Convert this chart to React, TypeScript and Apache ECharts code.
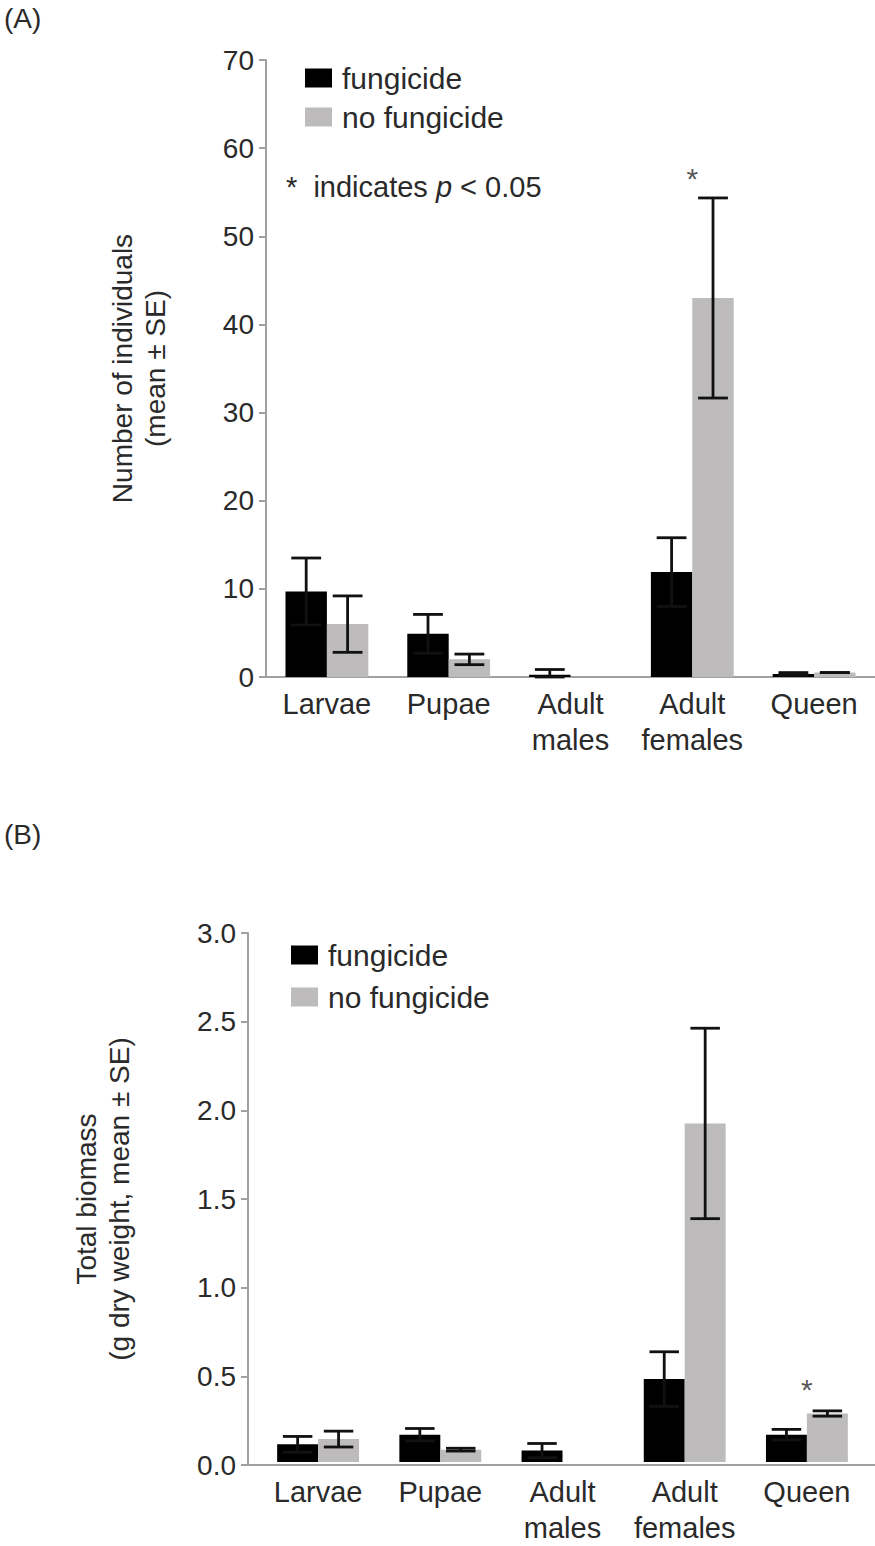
import React, { useEffect, useRef } from "react";
import * as echarts from "echarts";

const categories = ["Larvae", "Pupae", "Adult\nmales", "Adult\nfemales", "Queen"];
const seriesNames = ["fungicide", "no fungicide"];

// Panel A: number of individuals (mean ± SE)
const countFungicide = [9.7, 4.9, 0.25, 11.9, 0.35];
const countFungicideSE = [3.8, 2.2, 0.6, 3.9, 0.15];
const countNoFungicide = [6.0, 2.0, 0, 43.0, 0.5];
const countNoFungicideSE = [3.2, 0.6, 0, 11.35, 0];
const countStars = [null, null, null, 56.6, null];

// Panel B: total biomass (g dry weight, mean ± SE)
const massFungicide = [0.1, 0.155, 0.065, 0.47, 0.155];
const massFungicideSE = [0.045, 0.035, 0.04, 0.155, 0.03];
const massNoFungicide = [0.13, 0.07, 0, 1.92, 0.275];
const massNoFungicideSE = [0.045, 0.008, 0, 0.54, 0.015];
const massStars = [null, null, null, null, 0.41];

const countAxis = { min: 0, max: 70, interval: 10 };
const massAxis = { min: 0, max: 3, interval: 0.5 };

const FONT = "'Liberation Sans', Arial, sans-serif";
const TEXT = "#2a2a2a";
const AXIS = "#a0a0a0";
const BLACK = "#000000";
const GREY = "#bdbbbb";
const GAP_A = 0.32;
const GAP_B = 0.33;

function errorData(means: number[], ses: number[], side: number) {
  return means.map((m, i) => [i, m, ses[i], side]);
}

function makeErrorSeries(idx: number, data: any[], gapFrac: number) {
  return {
    type: "custom",
    xAxisIndex: idx,
    yAxisIndex: idx,
    z: 10,
    silent: true,
    data,
    renderItem: (params: any, api: any) => {
      const ci = api.value(0);
      const mean = api.value(1);
      const se = api.value(2);
      const side = api.value(3);
      if (mean <= 0 && se <= 0) return null;
      const band = api.size([1, 0])[0];
      const bw = (band * (1 - gapFrac)) / 2;
      const cx = api.coord([ci, 0])[0] + (side === 0 ? -bw / 2 : bw / 2);
      const lo = Math.max(0, mean - se);
      const yTop = api.coord([ci, mean + se])[1];
      const yBot = api.coord([ci, lo])[1];
      const cap = bw * 0.36;
      const st = { stroke: "#111", lineWidth: 2.8 };
      return {
        type: "group",
        children: [
          { type: "line", shape: { x1: cx, y1: yTop, x2: cx, y2: yBot }, style: st },
          { type: "line", shape: { x1: cx - cap, y1: yTop, x2: cx + cap, y2: yTop }, style: st },
          { type: "line", shape: { x1: cx - cap, y1: yBot, x2: cx + cap, y2: yBot }, style: st },
        ],
      };
    },
  };
}

function starData(stars: (number | null)[]) {
  return stars
    .map((v, i) => (v === null ? null : [i, v]))
    .filter((d) => d !== null);
}

function starSeries(idx: number, stars: (number | null)[]) {
  return {
    type: "scatter",
    xAxisIndex: idx,
    yAxisIndex: idx,
    symbolSize: 1,
    itemStyle: { color: "transparent" },
    silent: true,
    data: starData(stars),
    label: {
      show: true,
      position: "inside",
      formatter: "*",
      fontSize: 30,
      fontFamily: FONT,
      color: TEXT,
    },
  };
}

function xAxisOpt(idx: number, margin: number, showLine: boolean) {
  return {
    type: "category",
    gridIndex: idx,
    data: categories,
    axisLine: { show: showLine, lineStyle: { color: AXIS, width: 2 } },
    axisTick: { show: false },
    axisLabel: {
      interval: 0,
      fontSize: 29,
      lineHeight: 36,
      fontFamily: FONT,
      color: TEXT,
      margin,
    },
  };
}

function yAxisOpt(idx: number, cfg: any, name: string, nameGap: number, decimals: number, visible = true) {
  return {
    type: "value",
    gridIndex: idx,
    show: visible,
    min: cfg.min,
    max: cfg.max,
    interval: cfg.interval,
    name,
    nameLocation: "middle",
    nameRotate: 90,
    nameGap,
    nameTextStyle: { fontSize: 28, lineHeight: 33, fontFamily: FONT, color: TEXT },
    axisLine: { show: true, lineStyle: { color: AXIS, width: 2 } },
    axisTick: { show: true, length: 7, lineStyle: { color: AXIS, width: 2 } },
    splitLine: { show: false },
    axisLabel: {
      fontSize: 28,
      fontFamily: FONT,
      color: TEXT,
      margin: 12,
      formatter: (v: number) => v.toFixed(decimals),
    },
  };
}

function legendOpt(left: number, top: number, gap: number) {
  return {
    left,
    top,
    orient: "vertical",
    selectedMode: false,
    icon: "rect",
    itemWidth: 27,
    itemHeight: 19,
    itemGap: gap,
    data: seriesNames,
    textStyle: { fontSize: 30, fontFamily: FONT, color: TEXT, padding: [0, 0, 0, 5] },
  };
}

export default function App() {
  const ref = useRef<HTMLDivElement>(null);
  useEffect(() => {
    if (!ref.current) return;
    const chart = echarts.init(ref.current, null, { renderer: "svg" });
    const option: any = {
      animation: false,
      backgroundColor: "#ffffff",
      textStyle: { fontFamily: FONT },
      grid: [
        { left: 266, top: 60, height: 617, width: 618, containLabel: false },
        { left: 257, top: 933, height: 532, width: 611, containLabel: false },
        { left: 248, top: 933, height: 532, width: 627, containLabel: false },
      ],
      legend: [legendOpt(300, 58, 9), legendOpt(286, 935, 12)],
      xAxis: [
        xAxisOpt(0, 9, true),
        xAxisOpt(1, 12, false),
        {
          type: "value",
          gridIndex: 2,
          min: 0,
          max: 1,
          axisLine: { show: true, lineStyle: { color: AXIS, width: 2 } },
          axisTick: { show: false },
          axisLabel: { show: false },
          splitLine: { show: false },
        },
      ],
      yAxis: [
        yAxisOpt(0, countAxis, "Number of individuals\n(mean ± SE)", 94, 0),
        yAxisOpt(1, massAxis, "", 0, 1, false),
        yAxisOpt(2, massAxis, "Total biomass\n(g dry weight, mean ± SE)", 112, 1),
      ],
      graphic: [
        {
          type: "text",
          left: 4,
          top: 4,
          style: { text: "(A)", fontSize: 28, fontFamily: FONT, fill: TEXT },
        },
        {
          type: "text",
          left: 4,
          top: 820,
          style: { text: "(B)", fontSize: 28, fontFamily: FONT, fill: TEXT },
        },
        {
          type: "text",
          left: 286,
          top: 172,
          style: {
            text: "{s|*}  indicates {i|p} < 0.05",
            fontSize: 29,
            fontFamily: FONT,
            fill: TEXT,
            rich: {
              s: { fontSize: 29, fontFamily: FONT, fill: TEXT, verticalAlign: "top" },
              i: { fontSize: 29, fontFamily: FONT, fill: TEXT, fontStyle: "italic" },
            },
          },
        },
      ],
      series: [
        {
          name: seriesNames[0],
          type: "bar",
          xAxisIndex: 0,
          yAxisIndex: 0,
          data: countFungicide,
          itemStyle: { color: BLACK },
          barGap: "0%",
          barCategoryGap: GAP_A * 100 + "%",
        },
        {
          name: seriesNames[1],
          type: "bar",
          xAxisIndex: 0,
          yAxisIndex: 0,
          data: countNoFungicide,
          itemStyle: { color: GREY },
          barGap: "0%",
          barCategoryGap: GAP_A * 100 + "%",
        },
        makeErrorSeries(0, errorData(countFungicide, countFungicideSE, 0), GAP_A),
        makeErrorSeries(0, errorData(countNoFungicide, countNoFungicideSE, 1), GAP_A),
        starSeries(0, countStars),
        {
          name: seriesNames[0],
          type: "bar",
          xAxisIndex: 1,
          yAxisIndex: 1,
          data: massFungicide,
          itemStyle: { color: BLACK },
          barGap: "0%",
          barCategoryGap: GAP_B * 100 + "%",
        },
        {
          name: seriesNames[1],
          type: "bar",
          xAxisIndex: 1,
          yAxisIndex: 1,
          data: massNoFungicide,
          itemStyle: { color: GREY },
          barGap: "0%",
          barCategoryGap: GAP_B * 100 + "%",
        },
        makeErrorSeries(1, errorData(massFungicide, massFungicideSE, 0), GAP_B),
        makeErrorSeries(1, errorData(massNoFungicide, massNoFungicideSE, 1), GAP_B),
        starSeries(1, massStars),
      ],
    };
    chart.setOption(option);
    return () => chart.dispose();
  }, []);
  return (
    <div
      ref={ref}
      style={{ position: "absolute", left: 0, top: 0, width: 875, height: 1546, background: "#fff" }}
    />
  );
}
